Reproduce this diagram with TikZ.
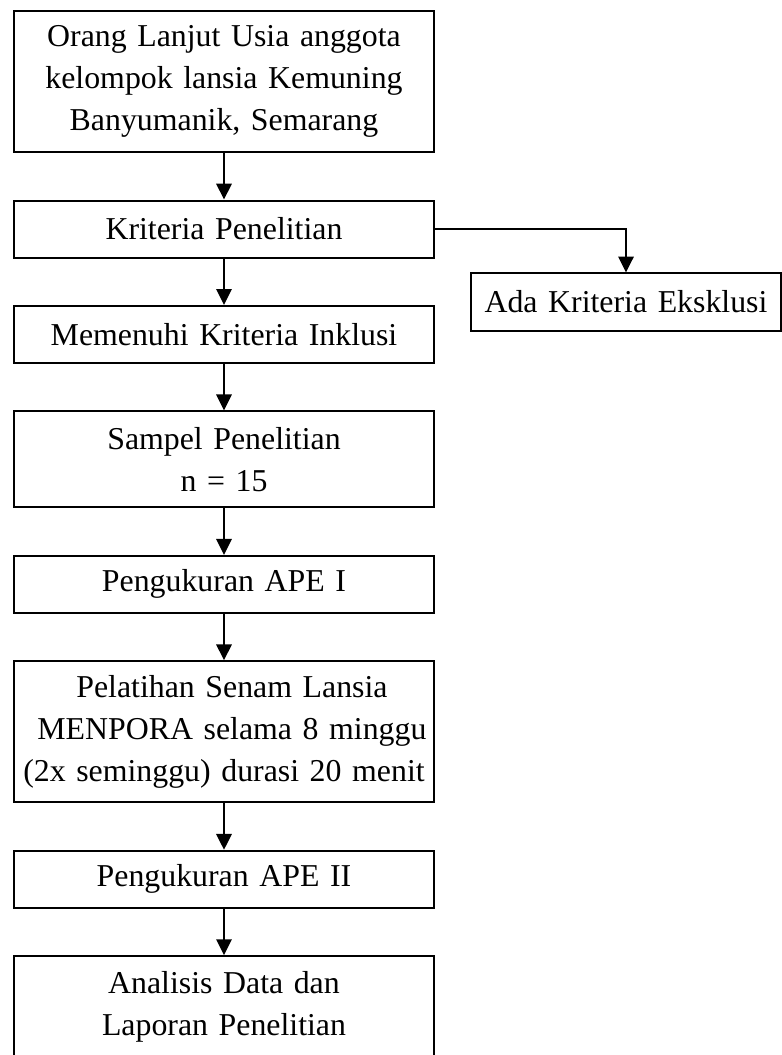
\documentclass[tikz,border=0pt]{standalone}
\usepackage{fontspec}
\setmainfont{Liberation Serif}
\usetikzlibrary{arrows.meta, positioning}

\begin{document}
\begin{tikzpicture}[
  x=0.377pt, y=-0.377pt,
  node distance=17.5pt,
  block/.style={draw, line width=0.75pt, align=center, text width=158pt, inner xsep=0pt, inner ysep=0pt, minimum height=21.5pt, font=\fontsize{12}{15.8}\selectfont},
  arrow/.style={-{Triangle[length=6pt, width=5.8pt]}, line width=0.75pt}
]
\useasboundingbox (0,0) rectangle (782,1055);
\node[block, minimum height=53.2pt, anchor=north] (lansia) at (224,10) {Orang Lanjut Usia anggota\\kelompok lansia Kemuning\\Banyumanik, Semarang};
\node[block, below=of lansia] (kriteria) {Kriteria Penelitian};
\node[block, text width=117pt] (eksklusi) at (626,302) {Ada Kriteria Eksklusi};
\node[block, below=of kriteria] (inklusi) {Memenuhi Kriteria Inklusi};
\node[block, minimum height=36.2pt, below=of inklusi] (sampel) {Sampel Penelitian\\n = 15};
\node[block, below=of sampel] (ape1) {Pengukuran APE I};
\node[block, minimum height=53.2pt, below=of ape1] (senam) {\hspace*{0.5em}Pelatihan Senam Lansia\\\hspace*{0.5em}MENPORA selama 8 minggu\\(2x seminggu) durasi 20 menit};
\node[block, below=of senam] (ape2) {Pengukuran APE II};
\node[block, minimum height=38pt, below=of ape2] (analisis) {Analisis Data dan\\Laporan Penelitian};

\draw[arrow] (lansia) -- (kriteria);
\draw[arrow] (kriteria.east) -| (eksklusi.north);
\draw[arrow] (kriteria) -- (inklusi);
\draw[arrow] (inklusi) -- (sampel);
\draw[arrow] (sampel) -- (ape1);
\draw[arrow] (ape1) -- (senam);
\draw[arrow] (senam) -- (ape2);
\draw[arrow] (ape2) -- (analisis);
\end{tikzpicture}
\end{document}
